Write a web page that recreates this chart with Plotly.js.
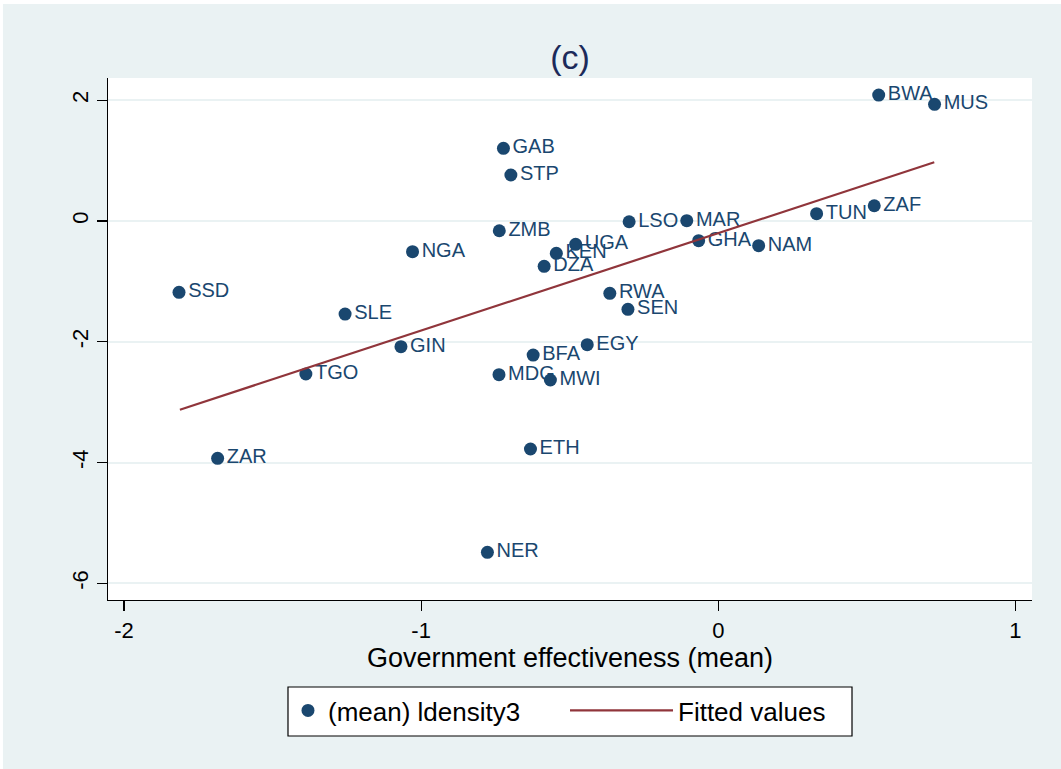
<!DOCTYPE html>
<html>
<head>
<meta charset="utf-8">
<script src="https://cdn.plot.ly/plotly-3.0.1.min.js"></script>
<style>
  html, body { margin: 0; padding: 0; background: #ffffff; }
  #chart { width: 1061px; height: 769px; }
</style>
</head>
<body>
<div id="chart"></div>
<script>
// Country codes (marker labels)
const countries = ["BWA","MUS","GAB","STP","TUN","ZAF","LSO","MAR","ZMB","GHA",
                   "NAM","UGA","KEN","NGA","DZA","SSD","RWA","SEN","SLE","GIN",
                   "EGY","BFA","TGO","MDG","MWI","ETH","ZAR","NER"];
// Government effectiveness (mean) — x values
const govEffectiveness = [0.540, 0.728, -0.723, -0.698, 0.331, 0.525, -0.300, -0.106, -0.737, -0.066,
                          0.136, -0.480, -0.545, -1.029, -0.586, -1.815, -0.365, -0.304, -1.256, -1.068,
                          -0.441, -0.623, -1.388, -0.738, -0.565, -0.632, -1.685, -0.777];
// (mean) ldensity3 — y values
const ldensity3 = [2.086, 1.932, 1.204, 0.762, 0.121, 0.253, -0.012, 0.005, -0.161, -0.326,
                   -0.409, -0.386, -0.535, -0.508, -0.750, -1.180, -1.197, -1.462, -1.540, -2.081,
                   -2.048, -2.219, -2.533, -2.545, -2.632, -3.775, -3.929, -5.485];
// Fitted values line (endpoints)
const fitX = [-1.812, 0.727];
const fitY = [-3.124, 0.972];
// Axis ticks
const xTicks = [-2, -1, 0, 1];
const yTicks = [2, 0, -2, -4, -6];

const navy = "#1A476F";
const maroon = "#90353B";
const bg = "#EAF2F3";
const fontFam = "Liberation Sans, Arial, Helvetica, sans-serif";

const traces = [
  {
    type: "scatter",
    mode: "markers+text",
    name: "(mean) ldensity3",
    x: govEffectiveness,
    y: ldensity3,
    text: countries,
    textposition: "middle right",
    textfont: { family: fontFam, size: 20, color: navy },
    marker: { color: navy, size: 13, line: { width: 0 } },
    cliponaxis: false,
    legend: "legend"
  },
  {
    type: "scatter",
    mode: "lines",
    name: "Fitted values",
    x: fitX,
    y: fitY,
    line: { color: maroon, width: 2.2 },
    legend: "legend2"
  }
];

const legendFont = { family: fontFam, size: 26, color: "#000000" };

const layout = {
  width: 1061,
  height: 769,
  paper_bgcolor: bg,
  plot_bgcolor: "#ffffff",
  margin: { l: 108, r: 29, t: 78, b: 169, pad: 0 },
  font: { family: fontFam, color: "#000000" },
  title: {
    text: "(c)",
    font: { family: fontFam, size: 34, color: "#1C2A5A" },
    x: 0.5, xref: "paper", xanchor: "center",
    y: 1 - 57 / 769, yref: "container", yanchor: "middle"
  },
  xaxis: {
    range: [-2.054, 1.056],
    tickmode: "array",
    tickvals: xTicks,
    ticktext: xTicks.map(String),
    ticks: "outside",
    ticklen: 10,
    tickwidth: 1.2,
    tickcolor: "#000000",
    showline: true,
    linecolor: "#000000",
    linewidth: 1.2,
    showgrid: false,
    zeroline: false,
    tickfont: { family: fontFam, size: 22, color: "#000000" },
    title: {
      text: "Government effectiveness (mean)",
      font: { family: fontFam, size: 27, color: "#000000" },
      standoff: 4
    }
  },
  yaxis: {
    range: [-6.275, 2.368],
    tickmode: "array",
    tickvals: yTicks,
    ticktext: yTicks.map(String),
    ticks: "outside",
    ticklen: 10,
    tickwidth: 1.2,
    tickcolor: "#000000",
    tickangle: -90,
    showline: true,
    linecolor: "#000000",
    linewidth: 1.2,
    showgrid: true,
    gridcolor: bg,
    gridwidth: 2,
    zeroline: false,
    tickfont: { family: fontFam, size: 22, color: "#000000" }
  },
  showlegend: true,
  legend: {
    orientation: "h",
    x: 0.1948, xanchor: "left",
    y: -0.1667, yanchor: "top",
    bgcolor: "rgba(0,0,0,0)",
    borderwidth: 0,
    font: legendFont,
    itemwidth: 30
  },
  legend2: {
    orientation: "h",
    x: 0.4946, xanchor: "left",
    y: -0.1667, yanchor: "top",
    bgcolor: "rgba(0,0,0,0)",
    borderwidth: 0,
    font: legendFont,
    itemwidth: 103
  },
  shapes: [
    // legend frame
    { type: "rect", xref: "paper", yref: "paper", x0: 0.1948, x1: 0.8052, y0: -0.2605, y1: -0.1667,
      fillcolor: "#ffffff", line: { color: "#000000", width: 1.2 }, layer: "above" },
    // thin white border of the image
    { type: "rect", xref: "paper", yref: "paper", x0: -0.2, x1: 1.2, y0: 1.1418, y1: 1.2,
      fillcolor: "#ffffff", line: { width: 0 }, layer: "above" },
    { type: "rect", xref: "paper", yref: "paper", x0: -0.2, x1: -0.1137, y0: -0.5, y1: 1.2,
      fillcolor: "#ffffff", line: { width: 0 }, layer: "above" }
  ]
};

Plotly.newPlot("chart", traces, layout, { displayModeBar: false, staticPlot: true });
</script>
</body>
</html>
